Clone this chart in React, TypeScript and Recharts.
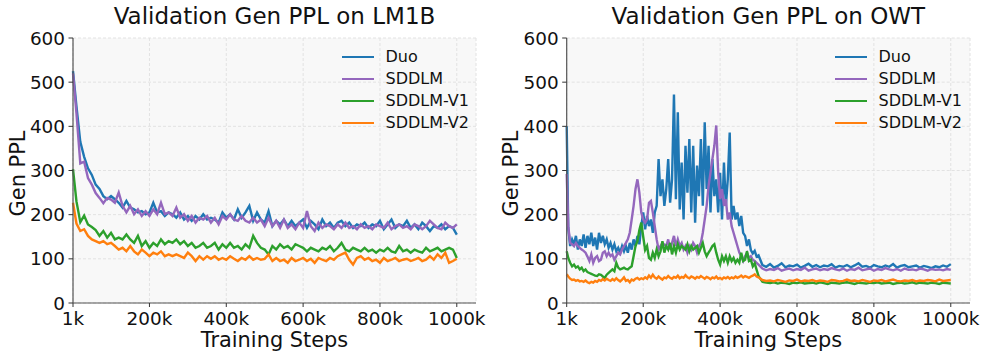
import { LineChart, Line, XAxis, YAxis, CartesianGrid, Legend, Label } from 'recharts';

const FONT = '"DejaVu Sans", "Liberation Sans", sans-serif';
const SPINE = '#555555';
const INK = '#111111';

// LM1B: evaluated every 10k steps (x in thousands)
const lm1bSteps = [
  1, 10, 20, 30, 40, 50, 60, 70, 80, 90,
  100, 110, 120, 130, 140, 150, 160, 170, 180, 190,
  200, 210, 220, 230, 240, 250, 260, 270, 280, 290,
  300, 310, 320, 330, 340, 350, 360, 370, 380, 390,
  400, 410, 420, 430, 440, 450, 460, 470, 480, 490,
  500, 510, 520, 530, 540, 550, 560, 570, 580, 590,
  600, 610, 620, 630, 640, 650, 660, 670, 680, 690,
  700, 710, 720, 730, 740, 750, 760, 770, 780, 790,
  800, 810, 820, 830, 840, 850, 860, 870, 880, 890,
  900, 910, 920, 930, 940, 950, 960, 970, 980, 990,
  1000,
];

const lm1bDuo = [
  525, 445, 365, 331, 305, 290, 268, 258, 242, 235,
  242, 235, 227, 216, 231, 216, 212, 205, 208, 201,
  205, 227, 205, 208, 197, 205, 201, 193, 205, 189,
  197, 186, 197, 189, 201, 189, 193, 189, 182, 205,
  193, 201, 189, 212, 193, 205, 220, 186, 205, 189,
  182, 208, 174, 186, 178, 189, 174, 186, 174, 182,
  189, 170, 186, 178, 167, 189, 174, 182, 170, 182,
  186, 174, 182, 170, 178, 174, 182, 170, 178, 174,
  186, 167, 178, 189, 170, 178, 174, 186, 170, 178,
  167, 182, 174, 163, 174, 170, 178, 167, 174, 170,
  155,
];

const lm1bSddlm = [
  520, 430, 316, 320, 283, 268, 249, 238, 226, 238,
  234, 227, 250, 220, 205, 220, 201, 212, 197, 208,
  197, 212, 201, 227, 201, 205, 197, 216, 193, 201,
  186, 197, 182, 193, 189, 197, 182, 193, 178, 197,
  189, 201, 189, 186, 197, 186, 182, 193, 182, 189,
  174, 193, 174, 186, 170, 189, 170, 178, 167, 182,
  170, 208, 174, 163, 182, 170, 178, 174, 167, 178,
  170, 182, 170, 174, 167, 178, 170, 174, 167, 178,
  174, 170, 182, 167, 174, 178, 170, 174, 167, 178,
  174, 167, 174, 186, 178, 170, 167, 182, 174, 170,
  178,
];

const lm1bV1 = [
  303, 230, 183, 198, 178, 172, 165, 152, 163, 148,
  159, 144, 148, 144, 155, 144, 136, 152, 129, 140,
  125, 136, 129, 144, 133, 140, 136, 144, 133, 140,
  129, 136, 125, 129, 136, 125, 129, 136, 121, 133,
  125, 136, 125, 129, 121, 133, 125, 152, 136, 125,
  121, 110, 129, 121, 133, 125, 129, 121, 133, 129,
  125, 117, 125, 121, 117, 125, 121, 129, 117, 125,
  136, 121, 117, 125, 121, 117, 125, 117, 121, 114,
  121, 117, 125, 117, 114, 129, 117, 121, 114, 121,
  117, 114, 125, 117, 121, 125, 117, 121, 125, 121,
  102,
];

const lm1bV2 = [
  227, 180, 163, 167, 152, 144, 140, 136, 140, 133,
  136, 129, 121, 125, 117, 129, 117, 110, 121, 114,
  106, 114, 110, 117, 106, 110, 106, 110, 106, 102,
  114, 106, 95, 106, 98, 106, 100, 106, 98, 102,
  98, 106, 100, 95, 102, 98, 106, 98, 102, 98,
  100, 110, 95, 102, 95, 98, 91, 102, 95, 98,
  102, 95, 100, 91, 102, 98, 95, 102, 98, 106,
  110, 114, 98, 87, 102, 106, 98, 102, 95, 98,
  91, 102, 95, 98, 102, 95, 98, 100, 95, 98,
  102, 95, 98, 106, 98, 110, 102, 114, 91, 95,
  100,
];

// OWT: every 5k steps up to 500k, then every 10k
const owtSteps = [
  1, 5, 10, 15, 20, 25, 30, 35, 40, 45,
  50, 55, 60, 65, 70, 75, 80, 85, 90, 95,
  100, 105, 110, 115, 120, 125, 130, 135, 140, 145,
  150, 155, 160, 165, 170, 175, 180, 185, 190, 195,
  200, 205, 210, 215, 220, 225, 230, 235, 240, 245,
  250, 255, 260, 265, 270, 275, 280, 285, 290, 295,
  300, 305, 310, 315, 320, 325, 330, 335, 340, 345,
  350, 355, 360, 365, 370, 375, 380, 385, 390, 395,
  400, 405, 410, 415, 420, 425, 430, 435, 440, 445,
  450, 455, 460, 465, 470, 475, 480, 485, 490, 495,
  500,
  510, 520, 530, 540, 550, 560, 570, 580, 590, 600,
  610, 620, 630, 640, 650, 660, 670, 680, 690, 700,
  710, 720, 730, 740, 750, 760, 770, 780, 790, 800,
  810, 820, 830, 840, 850, 860, 870, 880, 890, 900,
  910, 920, 930, 940, 950, 960, 970, 980, 990, 1000,
];

const owtDuo = [
  400, 170, 129, 144, 133, 152, 121, 144, 129, 155,
  125, 152, 133, 159, 129, 148, 121, 159, 136, 152,
  133, 144, 125, 136, 121, 133, 117, 125, 114, 129,
  117, 129, 114, 136, 121, 144, 129, 152, 133, 174,
  205, 167, 197, 174, 189, 159, 205, 220, 326, 242,
  280, 220, 258, 326, 227, 280, 472, 235, 432, 212,
  318, 189, 356, 250, 371, 205, 356, 182, 311, 242,
  371, 220, 409, 258, 356, 205, 326, 242, 280, 205,
  295, 189, 318, 220, 280, 386, 189, 220, 189, 205,
  174, 197, 159, 152, 129, 144, 120, 112, 118, 105,
  108,
  86, 82, 88, 80, 84, 90, 81, 85, 83, 87,
  80, 84, 89, 82, 86, 81, 85, 83, 88, 80,
  84, 82, 86, 81, 85, 90, 82, 84, 80, 86,
  83, 81, 85, 82, 88, 80, 84, 86, 81, 83,
  85, 80, 84, 82, 79, 83, 81, 85, 82, 88,
];

const owtSddlm = [
  292, 174, 136, 133, 129, 136, 129, 125, 121, 118,
  114, 105, 95, 110, 91, 102, 106, 95, 98, 114,
  117, 106, 114, 106, 110, 98, 106, 114, 110, 121,
  129, 136, 144, 159, 189, 220, 258, 280, 250, 205,
  189, 182, 189, 227, 231, 205, 174, 144, 121, 129,
  136, 132, 129, 144, 121, 136, 152, 129, 144, 129,
  136, 121, 129, 114, 129, 121, 136, 129, 114, 129,
  136, 159, 189, 220, 265, 295, 326, 356, 402, 295,
  235, 258, 220, 235, 189, 205, 174, 159, 144, 129,
  114, 106, 95, 106, 114, 102, 106, 98, 95, 91,
  87,
  78, 74, 77, 75, 79, 73, 76, 78, 74, 77,
  75, 80, 73, 76, 78, 74, 77, 75, 79, 76,
  74, 78, 73, 77, 75, 80, 74, 76, 78, 73,
  77, 75, 79, 76, 74, 77, 73, 78, 75, 76,
  74, 78, 76, 73, 77, 75, 76, 74, 77, 75,
];

const owtV1 = [
  117, 102, 91, 83, 87, 80, 83, 76, 80, 72,
  76, 70, 68, 66, 64, 62, 61, 65, 64, 60,
  57, 64, 68, 72, 76, 72, 91, 80, 76, 78,
  80, 77, 76, 80, 83, 106, 129, 140, 165, 182,
  150, 120, 129, 102, 98, 114, 102, 121, 106, 117,
  140, 114, 129, 121, 136, 110, 129, 114, 133, 121,
  129, 125, 121, 133, 117, 129, 121, 125, 129, 114,
  125, 136, 117, 106, 114, 121, 129, 133, 114, 98,
  87, 106, 95, 106, 91, 106, 95, 102, 91, 98,
  91, 114, 95, 98, 117, 95, 98, 83, 90, 75,
  61,
  48, 46, 45, 47, 44, 46, 45, 43, 46, 45,
  47, 44, 45, 46, 44, 47, 45, 43, 46, 45,
  44, 46, 47, 45, 43, 46, 45, 44, 46, 45,
  47, 44, 45, 46, 43, 45, 46, 44, 45, 47,
  44, 46, 45, 44, 46, 45, 43, 46, 45, 44,
];

const owtV2 = [
  65, 60, 55, 52, 53, 50, 52, 49, 50, 48,
  51, 47, 45, 48, 46, 50, 48, 52, 50, 54,
  51, 55, 52, 50, 54, 51, 56, 52, 49, 53,
  58, 50, 52, 47, 53, 51, 55, 57, 53, 56,
  54, 58, 55, 62, 57, 64, 58, 55, 60, 56,
  53, 58, 56, 61, 57, 55, 59, 57, 62, 56,
  59, 57, 63, 58, 56, 60, 58, 55, 59, 57,
  61, 58, 55, 59, 57, 54, 58, 56, 60, 55,
  57, 54, 58, 56, 59, 55, 58, 56, 60, 57,
  59, 62, 58, 61, 59, 57, 60, 62, 65, 60,
  58,
  52, 50, 51, 49, 52, 50, 48, 51, 50, 53,
  49, 51, 50, 52, 49, 51, 50, 48, 52, 51,
  49, 50, 53, 50, 51, 49, 52, 50, 48, 51,
  50, 52, 49, 51, 53, 50, 49, 51, 50, 52,
  49, 51, 50, 52, 51, 49, 53, 50, 51, 52,
];

const xTicks = [1, 200, 400, 600, 800, 1000];
const yTicks = [0, 100, 200, 300, 400, 500, 600];

const series = [
  { key: 'duo', name: 'Duo', color: '#1f77b4' },
  { key: 'sddlm', name: 'SDDLM', color: '#9467bd' },
  { key: 'v1', name: 'SDDLM-V1', color: '#2ca02c' },
  { key: 'v2', name: 'SDDLM-V2', color: '#ff7f0e' },
];

function buildRows(steps: number[], duo: number[], sddlm: number[], v1: number[], v2: number[]) {
  return steps.map((step, i) => ({ step, duo: duo[i], sddlm: sddlm[i], v1: v1[i], v2: v2[i] }));
}

const lm1bRows = buildRows(lm1bSteps, lm1bDuo, lm1bSddlm, lm1bV1, lm1bV2);
const owtRows = buildRows(owtSteps, owtDuo, owtSddlm, owtV1, owtV2);

function LegendBlock(props: any) {
  const items = props.payload || [];
  return (
    <div style={{ fontFamily: FONT, fontSize: 16, color: INK }}>
      {items.map((it: any) => (
        <div key={it.value} style={{ display: 'flex', alignItems: 'center', height: 22 }}>
          <span style={{ display: 'inline-block', width: 32, height: 2, background: it.color, marginRight: 11.5 }} />
          <span style={{ lineHeight: 1 }}>{it.value}</span>
        </div>
      ))}
    </div>
  );
}

function Panel({ title, rows, left, width, marginLeft }: { title: string; rows: any[]; left: number; width: number; marginLeft: number }) {
  const tickStyle = { fontSize: 18.4, fill: INK, fontFamily: FONT };
  return (
    <div style={{ position: 'absolute', left, top: 0 }}>
      <LineChart width={width} height={359} data={rows} margin={{ top: 38, right: 17, bottom: 26, left: marginLeft }}>
        <CartesianGrid fill="#f8f8f8" stroke="#e2e2e2" strokeDasharray="3 2" />
        <XAxis
          dataKey="step"
          type="number"
          domain={[1, 1050]}
          ticks={xTicks}
          tickFormatter={(v) => `${v}k`}
          tick={tickStyle}
          tickSize={4}
          tickMargin={5}
          tickLine={{ stroke: '#333' }}
          axisLine={{ stroke: SPINE, strokeWidth: 1.2 }}
        >
          <Label
            content={(p: any) => {
              const vb = p.viewBox || { x: 73, width: 403 };
              return (
                <text x={vb.x + vb.width / 2} y={346.7} textAnchor="middle" fontSize={20.9} fontFamily={FONT} fill={INK}>
                  Training Steps
                </text>
              );
            }}
          />
          <Label
            content={(p: any) => {
              const vb = p.viewBox || { x: 73, width: 403 };
              return (
                <text x={vb.x + vb.width / 2} y={24} textAnchor="middle" fontSize={23} fontFamily={FONT} fill={INK}>
                  {title}
                </text>
              );
            }}
          />
        </XAxis>
        <XAxis
          xAxisId="top"
          orientation="top"
          dataKey="step"
          type="number"
          domain={[1, 1050]}
          height={0}
          tick={false}
          tickLine={false}
          axisLine={{ stroke: SPINE, strokeWidth: 1.2 }}
        />
        <YAxis
          domain={[0, 600]}
          ticks={yTicks}
          width={60}
          tick={tickStyle}
          tickSize={4.5}
          tickMargin={3.5}
          tickLine={{ stroke: '#333' }}
          axisLine={{ stroke: SPINE, strokeWidth: 1.2 }}
        >
          <Label
            content={(p: any) => {
              const vb = p.viewBox || { y: 38, height: 265 };
              const cx = 24.5;
              const cy = vb.y + vb.height / 2 + 3;
              return (
                <text x={cx} y={cy} transform={`rotate(-90 ${cx} ${cy})`} textAnchor="middle" fontSize={20.9} fontFamily={FONT} fill={INK}>
                  Gen PPL
                </text>
              );
            }}
          />
        </YAxis>
        <YAxis
          yAxisId="right"
          orientation="right"
          domain={[0, 600]}
          width={0}
          tick={false}
          tickLine={false}
          axisLine={{ stroke: SPINE, strokeWidth: 1.2 }}
        />
        <Legend
          layout="vertical"
          align="center"
          verticalAlign="middle"
          content={LegendBlock}
          wrapperStyle={{ left: 342, top: 46, width: 140 }}
        />
        {series.map((s) => (
          <Line
            key={s.key}
            dataKey={s.key}
            name={s.name}
            stroke={s.color}
            strokeWidth={2.4}
            dot={false}
            type="linear"
            isAnimationActive={false}
          />
        ))}
      </LineChart>
    </div>
  );
}

export default function App() {
  return (
    <div style={{ position: 'absolute', left: 0, top: 0, width: 987, height: 359, background: '#fff', overflow: 'hidden' }}>
      <Panel title="Validation Gen PPL on LM1B" rows={lm1bRows} left={0} width={493} marginLeft={13} />
      <Panel title="Validation Gen PPL on OWT" rows={owtRows} left={493} width={494} marginLeft={13.7} />
    </div>
  );
}
